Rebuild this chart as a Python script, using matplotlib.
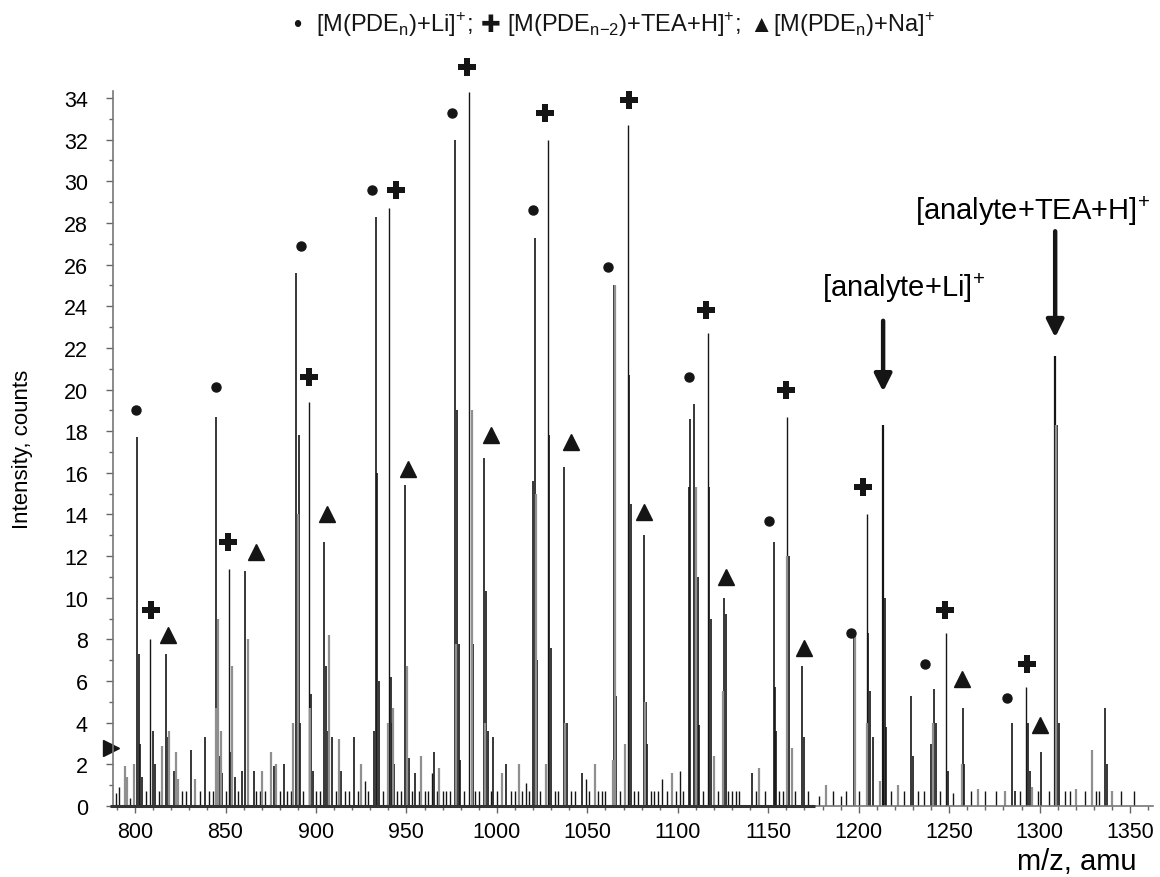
import numpy as np
import matplotlib
matplotlib.use('Agg')
from matplotlib import pyplot as plt
from matplotlib.ticker import MultipleLocator
from matplotlib.offsetbox import TextArea, HPacker, AnchoredOffsetbox

plt.rcParams['font.family'] = ['Liberation Sans', 'DejaVu Sans']
plt.rcParams['mathtext.fontset'] = 'custom'
plt.rcParams['mathtext.rm'] = 'Liberation Sans'

# --- main ion series (m/z, intensity) ---
li_mz = [801, 845, 889, 933, 977, 1021, 1065, 1109, 1153, 1197.5, 1241.5, 1285]
li_int = [17.7, 18.7, 25.6, 28.3, 32.0, 27.3, 25.0, 19.3, 12.7, 8.2, 5.6, 4.0]
tea_mz = [808.3, 852, 896, 940.5, 984.5, 1028, 1072.5, 1116.5, 1160.5, 1204.4, 1248.4, 1292.7]
tea_int = [8.0, 11.4, 19.4, 28.7, 34.3, 32.0, 32.7, 22.7, 18.7, 14.0, 8.3, 5.7]
na_mz = [817, 861, 904.6, 949, 993, 1037, 1081.4, 1125.6, 1168.7, 1257.6, 1301]
na_int = [7.3, 11.3, 12.7, 15.4, 16.7, 16.3, 13.0, 10.0, 6.7, 4.7, 2.6]
analyte_mz = [1213.5, 1308.6]
analyte_int = [18.3, 21.6]

# marker positions
li_mark_mz = [800.5, 845, 891.8, 931, 975, 1020, 1061.5, 1106, 1150.5, 1196, 1236.5, 1282]
li_mark_int = [19.0, 20.1, 26.9, 29.6, 33.3, 28.6, 25.9, 20.6, 13.7, 8.3, 6.8, 5.2]
tea_mark_mz = [808.8, 851.4, 896, 944, 983.5, 1026.6, 1073, 1115.6, 1160, 1202.4, 1247.8, 1293]
tea_mark_int = [9.4, 12.7, 20.6, 29.6, 35.5, 33.3, 33.9, 23.8, 20.0, 15.3, 9.4, 6.8]
na_mark_mz = [818.2, 866.9, 906, 951, 996.8, 1041, 1081.4, 1126.7, 1170, 1257, 1300]
na_mark_int = [8.2, 12.2, 14.0, 16.2, 17.8, 17.5, 14.1, 11.0, 7.6, 6.1, 3.9]

# companion / isotope peaks (m/z, intensity), dark
dark_peaks = [(802, 7.3), (803, 3.0), (804, 1.4), (810, 3.6), (811, 2.0), (818, 3.3),
              (821.5, 1.7), (831, 2.7), (838.5, 3.3), (846.5, 2.4), (848, 1.6), (853.2, 2.6),
              (855, 1.4), (859, 1.7), (862.5, 3.0), (865.5, 1.7), (877, 1.9), (882.4, 2.0),
              (889.8, 7.6), (890.4, 17.8), (891.2, 4.0), (897, 5.4), (898.5, 1.7), (905.6, 6.7),
              (906.5, 3.6), (909, 3.3), (914, 1.7), (921.2, 3.3), (932.3, 3.6), (934, 16.0),
              (935, 6.0), (941.4, 6.2), (942, 4.0), (943, 2.0), (950.5, 6.7), (951.5, 2.3),
              (955, 1.6), (965, 2.6), (978, 19.0), (978.8, 7.8), (979.6, 2.2), (986.6, 7.8),
              (994, 10.3), (995, 3.6), (998, 3.3), (1005, 2.0), (1020, 15.6), (1022, 7.0),
              (1029, 17.8), (1030, 7.6), (1038.5, 4.0), (1047, 1.6), (1066, 5.3), (1073.3, 20.7),
              (1074, 14.5), (1082.2, 5.0), (1083, 3.0), (1106, 15.3), (1107, 18.6), (1111, 11.0),
              (1112, 3.9), (1117.4, 15.3), (1118.2, 9.0), (1126.4, 9.2), (1141, 1.6), (1153.6, 5.7),
              (1154.3, 3.6), (1161.5, 12.0), (1170, 3.3), (1205.3, 8.3), (1206, 5.5), (1208, 3.3),
              (1214.3, 10.0), (1215, 3.8), (1229, 5.3), (1230, 2.4), (1240, 3.0), (1242.5, 4.0),
              (1249.2, 1.7), (1258.4, 2.0), (1286.5, 0.7), (1293.6, 4.0), (1294.5, 1.7),
              (1309.4, 18.3), (1310.5, 4.0), (1336, 4.7), (1337, 2.0)]

# companion / isotope peaks (m/z, intensity), grey
grey_peaks = [(794.5, 1.9), (795.5, 1.4), (799.5, 2.0), (815, 2.9), (819, 3.6), (822.5, 2.6),
              (824, 1.3), (833, 1.3), (844.5, 4.7), (846, 9.0), (847.5, 3.6), (853.6, 6.7),
              (862.2, 8.0), (870, 1.7), (875.2, 2.6), (878, 2.0), (887.5, 4.0), (890.2, 14.0),
              (896.8, 4.7), (907, 8.2), (913, 3.2), (925, 2.0), (940, 4.0), (942.6, 4.7),
              (950.2, 6.7), (958, 2.4), (968, 1.8), (977.6, 7.8), (986, 19.0), (993.6, 4.0),
              (1003, 1.6), (1012, 2.0), (1021.4, 15.0), (1027, 2.0), (1037.6, 4.0), (1054, 2.0),
              (1064, 2.2), (1065.4, 25.0), (1071, 3.0), (1081.8, 5.0), (1097, 1.6), (1110, 15.3),
              (1120, 2.4), (1125, 5.5), (1145, 1.8), (1160.2, 12.0), (1163, 2.8), (1182, 1.0),
              (1197.8, 8.2), (1204.8, 4.0), (1212, 1.2), (1222, 1.0), (1241.2, 4.0), (1257, 2.0),
              (1266, 0.8), (1281, 0.7), (1296, 0.9), (1309, 18.3), (1320, 0.8), (1329, 2.7),
              (1340, 0.7)]

# low-level background (m/z, intensity)
noise_peaks = [(789.5, 0.6), (791, 0.9), (797, 0.4), (806, 0.7), (813, 0.7), (826, 0.7),
               (828, 0.7), (836, 0.7), (841, 0.7), (843, 0.7), (850, 0.7), (857, 0.7),
               (867, 0.7), (869, 0.7), (872, 0.7), (880, 0.7), (884, 0.7), (886, 0.7),
               (893, 0.7), (900, 0.7), (902, 0.7), (911, 0.7), (916, 0.7), (918, 0.7),
               (923, 0.7), (927, 1.2), (929, 0.7), (937, 0.7), (945, 0.7), (947, 0.7),
               (953, 0.7), (957, 0.7), (960, 0.7), (962, 0.7), (964, 1.6), (967, 0.7),
               (970, 0.7), (972, 0.7), (974, 0.7), (982, 0.7), (988, 0.7), (990, 0.7),
               (997, 0.7), (1000, 0.7), (1008, 0.7), (1010, 0.7), (1014, 0.7), (1016, 1.1),
               (1018, 0.7), (1024, 0.7), (1032, 0.7), (1034, 0.7), (1041, 0.7), (1043, 0.7),
               (1049, 1.3), (1051, 0.7), (1056, 0.7), (1058, 0.7), (1060, 0.7), (1068, 0.7),
               (1076, 0.7), (1078, 0.7), (1085, 0.7), (1087, 0.7), (1089, 0.7), (1091, 1.3),
               (1094, 0.7), (1099, 0.7), (1101, 1.7), (1103, 0.7), (1114, 0.7), (1122, 0.7),
               (1128, 0.7), (1130, 0.7), (1132, 0.7), (1134, 0.7), (1143, 0.7), (1148, 0.7),
               (1156, 0.7), (1158, 0.7), (1165, 0.7), (1172, 0.7), (1178, 0.5), (1186, 0.7),
               (1190, 0.5), (1193, 0.7), (1200, 0.7), (1218, 0.7), (1225, 0.7), (1233, 0.7),
               (1236, 0.7), (1245, 0.7), (1252, 0.6), (1262, 0.7), (1270, 0.7), (1276, 0.7),
               (1289, 0.7), (1299, 0.7), (1305, 0.7), (1314, 0.7), (1317, 0.7), (1325, 0.7),
               (1331, 0.7), (1333, 0.7), (1345, 0.7), (1352, 0.7)]

# recorded m/z range of the dense part of the spectrum (dark baseline)
baseline_mz = [786, 1176]

# legend line at the top
legend_parts = ['\u2022  ', '[M(PDE$_{\\mathregular{n}}$)+Li$]^{+}$;  ',
                '\u271a ', '[M(PDE$_{\\mathregular{n{-}2}}$)+TEA+H$]^{+}$;  ',
                '\u25b2', '[M(PDE$_{\\mathregular{n}}$)+Na$]^{+}$']

DARK = '#151515'
GREY = '#8f8f8f'

fig = plt.figure(figsize=(11.6, 8.78), dpi=100)
ax = fig.add_axes([0.0974, 0.0809, 0.8966, 0.8144])

for peaks, col, lw in [(noise_peaks, DARK, 1.0), (dark_peaks, DARK, 1.2)]:
    mz, inten = zip(*peaks)
    ax.vlines(mz, 0, inten, colors=col, linewidth=lw)
ax.vlines(li_mz, 0, li_int, colors=DARK, linewidth=1.2)
ax.vlines(tea_mz, 0, tea_int, colors=DARK, linewidth=1.0)
ax.vlines(na_mz, 0, na_int, colors=DARK, linewidth=1.2)
ax.vlines(analyte_mz, 0, analyte_int, colors=DARK, linewidth=1.6)
mz, inten = zip(*grey_peaks)
ax.vlines(mz, 0, inten, colors=GREY, linewidth=1.6)
ax.hlines(0, baseline_mz[0], baseline_mz[1], colors='#333333', linewidth=2.2, clip_on=False, zorder=3)

ax.plot(li_mark_mz, li_mark_int, 'o', ms=6.5, color=DARK, clip_on=False)
ax.plot(tea_mark_mz, tea_mark_int, 'P', ms=12.5, color=DARK, mew=0, clip_on=False)
ax.plot(na_mark_mz, na_mark_int, '^', ms=11.5, color=DARK, clip_on=False)
ax.plot([786.5], [2.8], '>', ms=11, color=DARK, clip_on=False)

# annotations for the analyte peaks
ax.annotate('', xy=(analyte_mz[0], analyte_int[0] + 1.6), xytext=(analyte_mz[0], analyte_int[0] + 5.0),
            arrowprops=dict(arrowstyle='-|>', lw=3.2, color=DARK, mutation_scale=26, shrinkA=0, shrinkB=0))
ax.annotate('', xy=(analyte_mz[1], analyte_int[1] + 0.9), xytext=(analyte_mz[1], analyte_int[1] + 6.0),
            arrowprops=dict(arrowstyle='-|>', lw=3.2, color=DARK, mutation_scale=26, shrinkA=0, shrinkB=0))
ax.text(1225, 24.9, r'[analyte+Li$]^{+}$', fontsize=21, ha='center', va='center', clip_on=False)
ax.text(1296, 28.6, r'[analyte+TEA+H$]^{+}$', fontsize=21, ha='center', va='center', clip_on=False)

ax.set_xlim(787.8, 1362.7)
ax.set_ylim(0, 34.34)
ax.xaxis.set_major_locator(MultipleLocator(50))
ax.xaxis.set_minor_locator(MultipleLocator(10))
ax.yaxis.set_major_locator(MultipleLocator(2))
ax.yaxis.set_minor_locator(MultipleLocator(1))
for s in ['top', 'right']:
    ax.spines[s].set_visible(False)
for s in ['left', 'bottom']:
    ax.spines[s].set_color('#777777')
    ax.spines[s].set_linewidth(1.2)
ax.tick_params(axis='both', which='major', length=5, width=1, color='#666666', labelsize=15.5)
ax.tick_params(axis='both', which='minor', length=3, width=1, color='#666666')
ax.tick_params(axis='y', which='major', pad=13)
ax.tick_params(axis='x', which='major', pad=6)

ax.set_ylabel('Intensity, counts', fontsize=16)
ax.yaxis.set_label_coords(-0.077, 0.5)
ax.set_xlabel('m/z, amu', fontsize=21, va='top')
ax.xaxis.set_label_coords(0.927, -0.057)

areas = [TextArea(p, textprops=dict(fontsize=17, color=DARK)) for p in legend_parts]
box = HPacker(children=areas, align='baseline', pad=0, sep=0)
legend_box = AnchoredOffsetbox(loc='center', child=box, pad=0, borderpad=0, frameon=False,
                               bbox_to_anchor=(0.53, 0.972), bbox_transform=fig.transFigure)
fig.add_artist(legend_box)

fig.savefig('out.png', dpi=100)
